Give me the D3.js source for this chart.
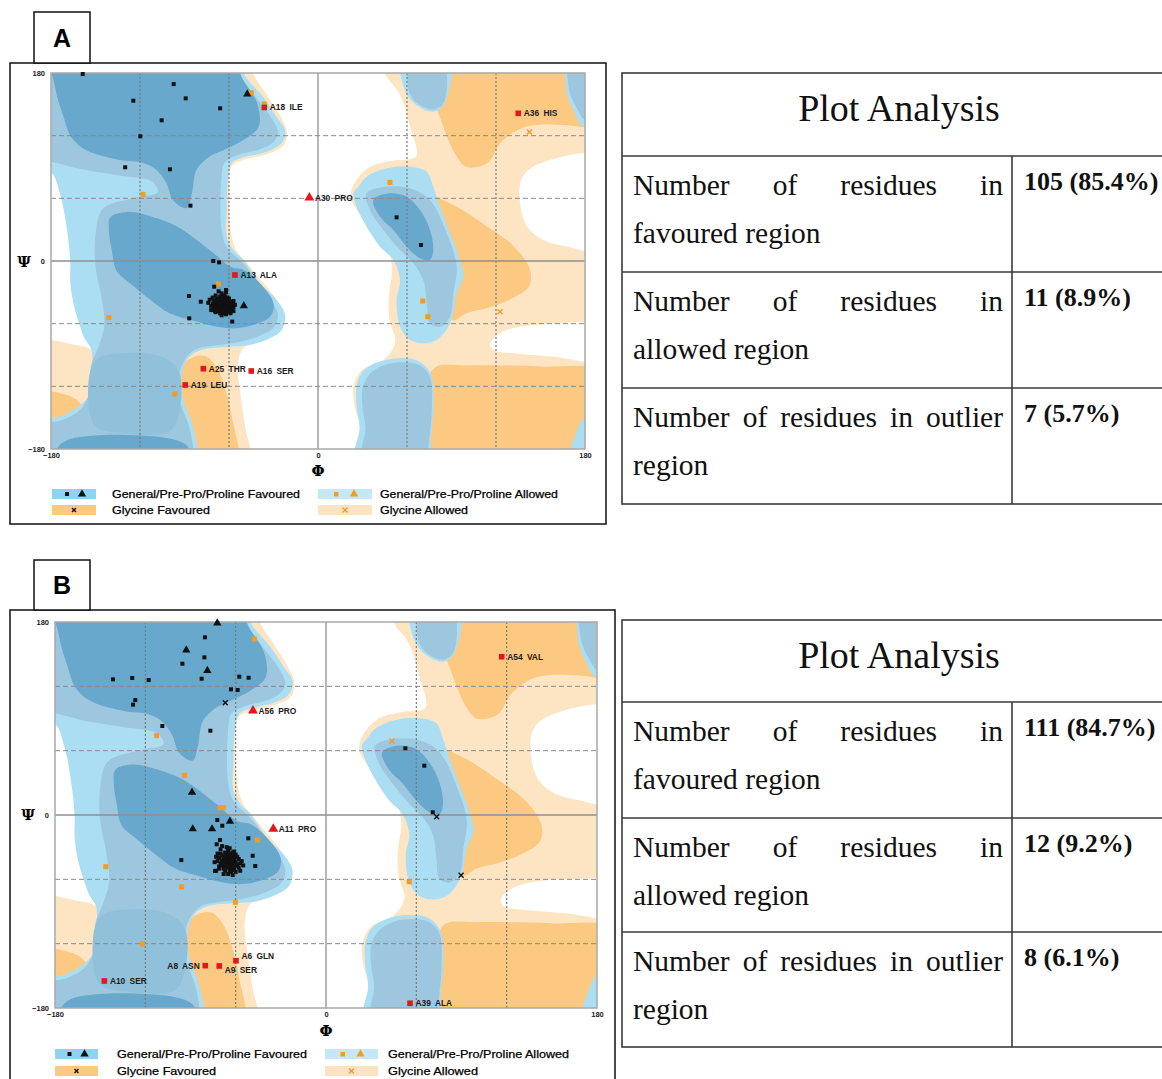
<!DOCTYPE html>
<html><head><meta charset="utf-8">
<script src="https://cdn.jsdelivr.net/npm/d3@7"></script>
<style>body{margin:0;background:#fff;} svg{display:block;}</style>
</head><body>
<svg id="fig" width="1162" height="1079"></svg>
<script>
// ---------------- DATA ----------------
const phiTicks = [-180, 0, 180];
const psiTicks = [-180, 0, 180];
const gridValues = [-120, -60, 60, 120];
const legendLabels = ["General/Pre-Pro/Proline Favoured", "General/Pre-Pro/Proline Allowed", "Glycine Favoured", "Glycine Allowed"];

// Background contour regions [phi, psi] (shared by both plots)
const glyAllowedRegions = [
  [[45,195],[45,180],[55,160],[62,129],[66,100],[50,96],[35,90],[26,78],[22,62],[28,45],[40,25],[48,8],[50,-10],[48,-30],[48,-55],[52,-78],[44,-95],[30,-104],[24,-120],[26,-146],[34,-165],[40,-195],[195,-195],[195,195]],
  [[-56,195],[-46,195],[-44,180],[-35,160],[-26,140],[-21,124],[-23,111],[-33,103],[-50,97],[-58,91],[-60,60],[-59,30],[-55,10],[-49,0],[-40,-16],[-30,-33],[-25,-50],[-27,-64],[-35,-74],[-50,-83],[-54,-100],[-52,-130],[-49,-160],[-46,-195],[-100,-195],[-100,100]],
  [[-195,-78],[-165,-80],[-152,-86],[-149,-110],[-149,-130],[-158,-150],[-195,-158]]
];
const glyFavouredRegions = [
  [[66,195],[66.5,180],[80,145],[87,119],[93.5,100],[100,90],[114,93.5],[123,113],[134,125],[145,130],[168,130],[180,128],[195,128],[195,195]],
  [[72,64],[93.5,52],[114,33],[132,14],[143,-8.6],[142,-25],[129,-37],[114,-45],[100,-50],[91,-57],[86,-40],[88,-10],[84,20],[78,45]],
  [[74,-195],[74,-140],[75,-110],[80,-101],[100,-100],[122,-100],[150,-101],[195,-108],[195,-195]],
  [[-93,-105],[-86,-93],[-76,-91],[-68,-103],[-62,-125],[-58,-150],[-55,-195],[-92,-195]],
  [[-195,-126],[-168,-129],[-160,-137],[-159,-148],[-170,-156],[-195,-158]]
];
const emptyRegions = [
  [[195,99],[150,93.5],[138,80.7],[136,58],[141,33],[152,20],[168,13.7],[195,10.5]],
  [[116,-79],[123,-69],[136,-63],[159,-60],[195,-63],[195,-95],[159,-91.6],[132,-88.4],[118,-85]]
];
const generalAllowedOuter = [
  [[-195,195],[-50,195],[-50,180],[-37,157],[-28,138],[-22,124],[-24.5,112.7],[-34.6,104.6],[-52.6,98.3],[-58.2,93.5],[-60.5,80.7],[-61.5,48.8],[-61.5,23.3],[-57,10.5],[-50.3,1],[-39,-21.4],[-27.8,-37.3],[-22.2,-51.7],[-24.5,-66],[-32.4,-74],[-45.8,-80.4],[-59.3,-82],[-72.8,-83.5],[-81.8,-86.8],[-88.5,-94.8],[-91.9,-110.7],[-90.8,-133],[-85,-155],[-81,-180],[-80,-195],[-195,-195],[-195,-156],[-174,-149],[-163,-141],[-155,-130],[-152,-115],[-152,-95],[-153,-84],[-157,-75],[-161,-60],[-165,-40],[-167,-20],[-167,0],[-169.5,32.8],[-174,64.8],[-180,85],[-195,90]],
  [[23.8,64.8],[27.2,71.1],[32.8,80.7],[46.3,88.7],[62,90.3],[73.3,85.5],[77.7,71.1],[82.2,52],[89,26.5],[95.7,1],[98,-15],[93.5,-31],[91.2,-50],[87.9,-62.9],[80,-75.6],[71,-78.8],[62,-75.6],[55.3,-62.9],[53,-37.3],[55.3,-18.2],[50.8,1],[41.8,13.7],[32.8,32.8],[26,52]],
  [[25,-195],[28,-160],[26,-140],[26,-120],[30,-106],[40,-97],[55,-93],[68,-96],[76,-108],[78,-140],[76,-170],[76,-195]],
  [[56,195],[57,170],[62,155],[70,146],[78,143],[84,148],[88,162],[89,195]],
  [[165,195],[166.5,180],[167.7,160.5],[172,144.6],[178.9,128.6],[195,125],[195,195]],
  [[170,-195],[174,-165],[180,-150],[195,-148],[195,-195]]
];
const generalAllowedInner = [
  [[-195,195],[-53,195],[-53,180],[-41,155],[-31,136],[-27,123],[-30,114],[-39,107],[-55,101],[-63,94],[-65,80],[-65,30],[-61,12],[-52,0],[-42,-17],[-32,-36],[-27,-52],[-30,-64],[-40,-72],[-55,-78],[-70,-81],[-83,-85],[-90,-95],[-94,-112],[-93,-135],[-87,-158],[-84,-180],[-83,-195],[-195,-195],[-195,-160],[-172,-152],[-160,-142],[-154,-126],[-153,-100],[-148,-82],[-144,-62],[-146,-35],[-150,-5],[-150,25],[-145,50],[-125,60],[-108,66],[-112,76],[-135,82],[-160,88],[-180,95],[-195,98]],
  [[32.8,64.8],[46.3,71.1],[62,69.6],[75.5,58.4],[86.8,26.5],[93.5,-5.5],[91.2,-31],[89,-53.3],[82.2,-62.9],[75.5,-59.7],[73.3,-40.5],[71,-18.2],[64.3,-2.2],[55.3,10.5],[44,29.7],[35,48.8]],
  [[30,-195],[32,-160],[30,-140],[30,-122],[35,-108],[44,-100],[57.5,-97],[68.8,-100],[75.5,-111],[76.7,-142.6],[74.4,-180],[74,-195]],
  [[58,195],[59.8,180],[62,160],[68,150],[77.7,145],[84,150],[86.8,165],[86.8,180],[87,195]],
  [[168,195],[168,180],[170,160],[175,145],[180,135],[195,132],[195,195]],
  [[-150,-95],[-128,-88],[-105,-92],[-94,-105],[-93,-140],[-100,-163],[-130,-165],[-150,-158],[-155,-130]]
];
const generalFavouredRegions = [
  [[-178,195],[-52.6,195],[-52.6,180],[-41,151],[-40,128.6],[-50,116],[-64,106],[-73,100],[-82,87],[-85,65],[-88.5,50.7],[-97.6,58],[-102,74],[-108.7,87],[-118,94],[-133.5,96.7],[-156,106],[-166,118],[-172,140],[-177,165]],
  [[-178,-195],[-176,-180],[-170,-172],[-150,-167],[-120,-167],[-100,-170],[-90,-175],[-87,-180],[-86,-195]],
  [[-140,42],[-129,47],[-111,42],[-95,33],[-73,10.5],[-59,-5.5],[-50,-8.6],[-37,-24.6],[-30,-40.5],[-32,-53],[-41,-60],[-55,-64.4],[-68,-63],[-82,-58],[-100,-50],[-113,-37],[-127,-21],[-136,-9],[-139,10],[-141,30]],
  [[37.3,58.4],[48.5,64.8],[59.8,61.6],[68.8,48.8],[75.5,29.7],[77.7,10.5],[75.5,1],[68.8,2.6],[59.8,13.7],[50.8,29.7],[41.8,42.4]]
];

// ---- Panel A residues ----
const aFavouredSquares = [[-158.6,179],[-97.3,169.4],[-124.5,153.5],[-89.2,155.7],[-66,146.2],[-105.4,134.7],[-119.8,119.4],[-130,89.7],[-99.8,87.8],[-86,53],[-70.6,0],[-66.7,-1.3],[-87,-33.5],[-79,-39],[-86.8,-54.9],[-57.8,-58],[-70,-24.6],[-62,-27.8],[-57,-38.3],[-69.4,-47.9],[53,41.8],[69.4,15.3],
 [-66,-38],[-64,-40],[-62,-41],[-65,-43],[-67,-41],[-63,-37],[-61,-39],[-68,-36],[-70,-38],[-60,-43],[-64,-45],[-66,-46],[-62,-47],[-59,-45],[-68,-44],[-71,-41],[-69,-33],[-66,-34],[-63,-33],[-60,-36],[-58,-41],[-61,-48],[-64,-49],[-67,-48],[-70,-46],[-72,-43],[-73,-37],[-65,-31],[-62,-30],[-67,-29],[-58,-47],[-57,-44],[-63,-42],[-65,-39],[-61,-44],[-66,-42],[-64,-36],[-62,-38],[-68,-40],[-60,-40],[-63,-46],[-65,-47],[-59,-50],[-62,-51],[-66,-50],[-69,-49],[-71,-35],[-74,-40],[-56,-42],[-67,-39],[-64,-43],[-61,-42],[-63,-39],[-65,-44],[-67,-45],[-60,-46],[-62,-44],[-66,-37],[-69,-42],[-58,-39],[-64,-34],[-61,-35],[-68,-47],[-63,-50],[-65,-52],[-60,-49],[-70,-43],[-72,-47],[-57,-48],[-62,-35],[-66,-41],[-64,-38],[-63,-44],[-65,-36],[-61,-37],[-67,-43],[-59,-42],[-68,-38],[-62,-45],[-64,-47],[-66,-44]];
const aFavouredTriangles = [[-47.7,159.9],[-50,-43]];
const aGlycineFavoured = [];
const aAllowedSquares = [[-45,161],[-36.2,150.3],[-118,63.8],[-67.2,-22],[-141,-54.2],[-96.6,-127.3],[48.5,75.3],[70.6,-38.3],[74,-53.3]];
const aGlycineAllowed = [[142.5,123.5],[122.7,-48.5]];
const aOutliers = [
  {label:"A18 ILE", phi:-36.2, psi:147, shape:"square"},
  {label:"A30 PRO", phi:-5.8, psi:60.6, shape:"triangle"},
  {label:"A13 ALA", phi:-56, psi:-13.4, shape:"square"},
  {label:"A25 THR", phi:-77.3, psi:-103.1, shape:"square"},
  {label:"A16 SER", phi:-45, psi:-105.3, shape:"square"},
  {label:"A19 LEU", phi:-89.5, psi:-118.7, shape:"square"},
  {label:"A36 HIS", phi:135, psi:141.4, shape:"square"}
];
const aTableValues = ["105 (85.4%)", "11 (8.9%)", "7 (5.7%)"];

// ---- Panel B residues ----
const bFavouredSquares = [[-80.4,165.7],[-80.8,147],[-95.4,141.1],[-141.5,126.5],[-128.7,127.8],[-117.8,125.9],[-82.6,127.1],[-57.6,129],[-51.4,128],[-63.1,117.2],[-58.7,116.6],[-126.7,107.2],[-128.2,102.9],[-108.7,83],[-76.8,78.6],[-72.2,-4.7],[-68.9,-10],[-51.6,-21.7],[-96.1,-42],[-73.7,-52.2],[-62,-50.6],[-47,-47.6],[-48.7,-38],[-72.6,-27.3],[-70.4,-23.3],[52.7,62.2],[65.3,46],[70.9,2.5],
 [-65,-41],[-63,-43],[-67,-39],[-61,-40],[-66,-45],[-64,-37],[-62,-46],[-68,-42],[-60,-44],[-69,-38],[-66,-48],[-63,-49],[-70,-45],[-59,-47],[-64,-41],[-62,-38],[-67,-35],[-65,-33],[-71,-40],[-58,-41],[-61,-51],[-64,-52],[-68,-50],[-72,-43],[-57,-45],[-66,-42],[-63,-40],[-65,-46],[-61,-43],[-67,-44],[-69,-47],[-60,-37],[-62,-35],[-66,-38],[-64,-44],[-70,-36],[-73,-39],[-58,-49],[-63,-53],[-67,-52],[-65,-55],[-60,-53],[-71,-50],[-56,-43],[-62,-42],[-68,-40],[-64,-47],[-66,-36],[-69,-43],[-61,-48],[-65,-38],[-63,-45],[-67,-47],[-59,-39],[-70,-32],[-66,-30],[-72,-36],[-74,-44],[-55,-47],[-62,-56],[-68,-55],[-64,-39],[-66,-43],[-62,-44],[-65,-49],[-60,-46],[-63,-36],[-68,-45],[-71,-48],[-61,-34],[-64,-31],[-69,-29],[-57,-52],[-73,-52]];
const bFavouredTriangles = [[-72.2,179],[-92.8,153.9],[-78.8,134.6],[-89,21.2],[-63.8,-5.9],[-88.5,-13],[-75.7,-13]];
const bGlycineFavoured = [[-66.9,104.7],[73.5,-1.6],[89.7,-56.3]];
const bAllowedSquares = [[-47.6,164.1],[-112.5,74],[-93.9,37],[-70.4,6.8],[-68.2,6.8],[-45.6,-23.3],[-146.3,-48.2],[-95.9,-66.9],[-60.2,-81.4],[-122,-120.3],[55.3,-62.2]];
const bGlycineAllowed = [[43.8,69]];
const bOutliers = [
  {label:"A54 VAL", phi:116.7, psi:147.6, shape:"square"},
  {label:"A56 PRO", phi:-48.5, psi:97.3, shape:"triangle"},
  {label:"A11 PRO", phi:-35, psi:-13, shape:"triangle"},
  {label:"A6 GLN", phi:-59.8, psi:-135.9, shape:"square"},
  {label:"A8 ASN", phi:-80.2, psi:-140.5, shape:"square"},
  {label:"A9 SER", phi:-70.9, psi:-140.8, shape:"square"},
  {label:"A10 SER", phi:-147.2, psi:-154.8, shape:"square"},
  {label:"A39 ALA", phi:55.8, psi:-175.6, shape:"square"}
];
const bTableValues = ["111 (84.7%)", "12 (9.2%)", "8 (6.1%)"];

const tableHeader = "Plot Analysis";
const tableRowLines = [["Number of residues in", "favoured region"], ["Number of residues in", "allowed region"], ["Number of residues in outlier", "region"]];

// ---------------- LAYOUT / STYLE ----------------
const COL = {lightOrange:"#fde5c4", orange:"#fbc981", sky:"#acdef3", gray:"#9cc7de", core:"#68a8cc", grayDark:"#90c0da"};
// label placement tweaks for crowded outlier labels (pixels)
const labelPlacement = {"A6 GLN":{dx:5.5, dy:-5, anchor:"start"}, "A8 ASN":{dx:-5.5, dy:0, anchor:"end"}, "A9 SER":{dx:5.5, dy:4, anchor:"start"}};
const panels = [
  {key:"A", frame:{x:10,y:63,w:596,h:461}, box:{x:34,y:12,w:56,h:51}, plot:{x:51,y:73,w:534,h:376},
   legend:{y1:494,y2:510,sw1x:52,sw1w:44,t1x:112,tw:[188,178,98,88],sw2x:318,sw2w:54,t2x:380},
   psiLab:{x:24,y:262}, phiLab:{x:318,y:471},
   table:{top:73,head:156,rows:[272,388,504]},
   fav:aFavouredSquares, tri:aFavouredTriangles, glyFav:aGlycineFavoured, allow:aAllowedSquares, glyAllow:aGlycineAllowed, out:aOutliers, values:aTableValues},
  {key:"B", frame:{x:10,y:610,w:605,h:480}, box:{x:34,y:560,w:56,h:50}, plot:{x:55,y:622,w:542,h:386},
   legend:{y1:1054,y2:1071,sw1x:55,sw1w:43,t1x:117,tw:[190,181,99,90],sw2x:325,sw2w:53,t2x:388},
   psiLab:{x:28,y:815}, phiLab:{x:326,y:1031},
   table:{top:620,head:702,rows:[818,932,1047]},
   fav:bFavouredSquares, tri:bFavouredTriangles, glyFav:bGlycineFavoured, allow:bAllowedSquares, glyAllow:bGlycineAllowed, out:bOutliers, values:bTableValues}
];

const svg = d3.select("#fig");
const SANS = "'Liberation Sans', Arial, sans-serif";
const SERIF = "'Liberation Serif', 'Times New Roman', serif";

function drawPanel(p) {
  const g = svg.append("g");
  g.append("rect").attr("x",p.frame.x).attr("y",p.frame.y).attr("width",p.frame.w).attr("height",p.frame.h)
    .attr("fill","none").attr("stroke","#111").attr("stroke-width",1.5);
  g.append("rect").attr("x",p.box.x).attr("y",p.box.y).attr("width",p.box.w).attr("height",p.box.h)
    .attr("fill","#fff").attr("stroke","#111").attr("stroke-width",1.5);
  g.append("text").attr("x",p.box.x+p.box.w/2).attr("y",p.box.y+p.box.h/2).attr("dy","0.36em")
    .attr("text-anchor","middle").attr("font-family",SANS).attr("font-weight","bold").attr("font-size",25).text(p.key);

  const x = d3.scaleLinear().domain([-180,180]).range([p.plot.x, p.plot.x+p.plot.w]);
  const y = d3.scaleLinear().domain([-180,180]).range([p.plot.y+p.plot.h, p.plot.y]);
  const clipId = "clip"+p.key;
  svg.append("clipPath").attr("id",clipId).append("rect")
    .attr("x",p.plot.x).attr("y",p.plot.y).attr("width",p.plot.w).attr("height",p.plot.h);
  const bg = g.append("g").attr("clip-path","url(#"+clipId+")");
  const line = d3.line().x(d=>x(d[0])).y(d=>y(d[1])).curve(d3.curveCatmullRomClosed.alpha(0.5));
  const layer = (regions, fill) => bg.append("g").selectAll("path").data(regions).join("path")
    .attr("d", line).attr("fill", fill).attr("stroke","none");
  layer(glyAllowedRegions, COL.lightOrange);
  layer(glyFavouredRegions, COL.orange);
  layer(emptyRegions, "#fff");
  layer(generalAllowedOuter, COL.sky);
  bg.append("g").selectAll("path").data(generalAllowedInner).join("path")
    .attr("d", line).attr("fill",(d,i)=> i===5 ? COL.grayDark : COL.gray);
  layer(generalFavouredRegions, COL.core);

  const grid = g.append("g");
  grid.selectAll(".vg").data(gridValues).join("line")
    .attr("x1",d=>x(d)).attr("x2",d=>x(d)).attr("y1",p.plot.y).attr("y2",p.plot.y+p.plot.h)
    .attr("stroke","#7a7a7a").attr("stroke-width",1.2).attr("stroke-dasharray","2,2");
  grid.selectAll(".hg").data(gridValues).join("line")
    .attr("y1",d=>y(d)).attr("y2",d=>y(d)).attr("x1",p.plot.x).attr("x2",p.plot.x+p.plot.w)
    .attr("stroke","#8a8a8a").attr("stroke-width",1).attr("stroke-dasharray","5,3");
  grid.append("line").attr("x1",x(0)).attr("x2",x(0)).attr("y1",p.plot.y).attr("y2",p.plot.y+p.plot.h)
    .attr("stroke","#8f8f8f").attr("stroke-width",1.3);
  grid.append("line").attr("y1",y(0)).attr("y2",y(0)).attr("x1",p.plot.x).attr("x2",p.plot.x+p.plot.w)
    .attr("stroke","#8f8f8f").attr("stroke-width",1.3);
  g.append("rect").attr("x",p.plot.x).attr("y",p.plot.y).attr("width",p.plot.w).attr("height",p.plot.h)
    .attr("fill","none").attr("stroke","#a8a8a8").attr("stroke-width",1.5);

  const ax = g.append("g").attr("transform","translate(0,"+(p.plot.y+p.plot.h)+")")
    .call(d3.axisBottom(x).tickValues(phiTicks).tickSize(0).tickPadding(4));
  const ay = g.append("g").attr("transform","translate("+p.plot.x+",0)")
    .call(d3.axisLeft(y).tickValues(psiTicks).tickSize(0).tickPadding(6));
  [ax, ay].forEach(a => {
    a.select(".domain").remove();
    a.selectAll("text").attr("font-family",SANS).attr("font-weight","bold").attr("font-size",7.5).attr("fill","#222");
  });
  g.append("text").attr("x",p.psiLab.x).attr("y",p.psiLab.y).attr("dy","0.35em").attr("text-anchor","middle")
    .attr("font-family","'DejaVu Serif', serif").attr("font-weight","bold").attr("font-size",15).text("Ψ");
  g.append("text").attr("x",p.phiLab.x).attr("y",p.phiLab.y).attr("dy","0.35em").attr("text-anchor","middle")
    .attr("font-family","'DejaVu Serif', serif").attr("font-weight","bold").attr("font-size",15).text("Φ");

  const pts = g.append("g");
  const sq = (data, s, fill) => pts.append("g").selectAll("rect").data(data).join("rect")
    .attr("x",d=>x(d[0])-s/2).attr("y",d=>y(d[1])-s/2).attr("width",s).attr("height",s).attr("fill",fill);
  const xs = (data, color) => pts.append("g").selectAll("path").data(data).join("path")
    .attr("transform",d=>"translate("+x(d[0])+","+y(d[1])+")")
    .attr("d","M-2.5,-2.5L2.5,2.5M-2.5,2.5L2.5,-2.5").attr("stroke",color).attr("stroke-width",1.4).attr("fill","none");
  const triSym = d3.symbol().type(d3.symbolTriangle).size(30);
  sq(p.allow, 5, "#f39c1e");
  xs(p.glyAllow, "#f39c1e");
  sq(p.fav, 4, "#111");
  pts.append("g").selectAll("path").data(p.tri).join("path")
    .attr("transform",d=>"translate("+x(d[0])+","+y(d[1])+")").attr("d",triSym).attr("fill","#111");
  xs(p.glyFav, "#111");
  const outG = pts.append("g");
  const redTri = d3.symbol().type(d3.symbolTriangle).size(42);
  outG.selectAll("path").data(p.out.filter(d=>d.shape==="triangle")).join("path")
    .attr("transform",d=>"translate("+x(d.phi)+","+y(d.psi)+")").attr("d",redTri).attr("fill","#e8141b");
  outG.selectAll("rect").data(p.out.filter(d=>d.shape==="square")).join("rect")
    .attr("x",d=>x(d.phi)-2.8).attr("y",d=>y(d.psi)-2.8).attr("width",5.6).attr("height",5.6).attr("fill","#e8141b");
  const lp = d => labelPlacement[d.label] || {dx:5.5, dy:0, anchor:"start"};
  outG.selectAll("text").data(p.out).join("text")
    .attr("x",d=>x(d.phi)+lp(d).dx).attr("y",d=>y(d.psi)+lp(d).dy).attr("dy","0.35em")
    .attr("text-anchor",d=>lp(d).anchor)
    .attr("font-family",SANS).attr("font-weight","bold").attr("font-size",8.4).attr("fill","#1a1a1a")
    .attr("word-spacing",2).text(d=>d.label);

  const L = p.legend;
  const lg = g.append("g");
  const sw = [
    {x:L.sw1x, w:L.sw1w, yy:L.y1, fill:"#8fd3f2"},
    {x:L.sw2x, w:L.sw2w, yy:L.y1, fill:"#c4e8f8"},
    {x:L.sw1x, w:L.sw1w, yy:L.y2, fill:COL.orange},
    {x:L.sw2x, w:L.sw2w, yy:L.y2, fill:"#fde3bf"}
  ];
  lg.selectAll("rect.sw").data(sw).join("rect").attr("class","sw")
    .attr("x",d=>d.x).attr("y",d=>d.yy-5).attr("width",d=>d.w).attr("height",10).attr("fill",d=>d.fill);
  const tx = [L.t1x, L.t2x, L.t1x, L.t2x];
  const ty = [L.y1, L.y1, L.y2, L.y2];
  lg.selectAll("text").data(legendLabels).join("text")
    .attr("x",(d,i)=>tx[i]).attr("y",(d,i)=>ty[i]).attr("dy","0.35em")
    .attr("font-family",SANS).attr("font-size",10.5).attr("fill","#000").attr("stroke","#000").attr("stroke-width",0.25)
    .attr("textLength",(d,i)=>L.tw[i]).attr("lengthAdjust","spacingAndGlyphs").text(d=>d);
  const c1 = L.sw1x + L.sw1w/2, c2 = L.sw2x + L.sw2w/2;
  lg.append("rect").attr("x",c1-9).attr("y",L.y1-2).attr("width",4).attr("height",4).attr("fill","#111");
  lg.append("path").attr("transform","translate("+(c1+8)+","+L.y1+")").attr("d",triSym).attr("fill","#111");
  lg.append("rect").attr("x",c2-11).attr("y",L.y1-2).attr("width",4.5).attr("height",4.5).attr("fill","#f39c1e");
  lg.append("path").attr("transform","translate("+(c2+9)+","+L.y1+")").attr("d",triSym).attr("fill","#f39c1e");
  lg.append("path").attr("transform","translate("+c1+","+L.y2+")").attr("d","M-2,-2L2,2M-2,2L2,-2").attr("stroke","#111").attr("stroke-width",1.4);
  lg.append("path").attr("transform","translate("+c2+","+L.y2+")").attr("d","M-2.5,-2.5L2.5,2.5M-2.5,2.5L2.5,-2.5").attr("stroke","#f39c1e").attr("stroke-width",1.3);

  drawTable(p);
}

function justify(g, str, x0, x1, yy, size) {
  const words = str.split(" ");
  const els = words.map(w => g.append("text").attr("y",yy).attr("dy","0.35em")
    .attr("font-family",SERIF).attr("font-size",size).attr("fill","#111").text(w));
  const widths = els.map(e => e.node().getComputedTextLength());
  const total = d3.sum(widths);
  const gap = words.length > 1 ? (x1 - x0 - total) / (words.length - 1) : 0;
  let cx = x0;
  els.forEach((e,i) => { e.attr("x", cx); cx += widths[i] + gap; });
}

function drawTable(p) {
  const t = p.table;
  const g = svg.append("g");
  const Lx = 622, Rx = 1176, col = 1012;
  g.append("rect").attr("x",Lx).attr("y",t.top).attr("width",Rx-Lx).attr("height",t.rows[2]-t.top)
    .attr("fill","none").attr("stroke","#3a3a3a").attr("stroke-width",1.6);
  [t.head, t.rows[0], t.rows[1]].forEach(v => g.append("line").attr("x1",Lx).attr("x2",Rx).attr("y1",v).attr("y2",v)
    .attr("stroke","#3a3a3a").attr("stroke-width",1.6));
  g.append("line").attr("x1",col).attr("x2",col).attr("y1",t.head).attr("y2",t.rows[2]).attr("stroke","#3a3a3a").attr("stroke-width",1.6);
  g.append("text").attr("x",(Lx+Rx)/2).attr("y",t.top+35).attr("dy","0.35em").attr("text-anchor","middle")
    .attr("font-family",SERIF).attr("font-size",38).attr("fill","#111").text(tableHeader);
  tableRowLines.forEach((lines, i) => {
    const top = i === 0 ? t.head : t.rows[i-1];
    justify(g, lines[0], 633, 1003, top+29, 29.5);
    g.append("text").attr("x",633).attr("y",top+77).attr("dy","0.35em")
      .attr("font-family",SERIF).attr("font-size",29.5).attr("fill","#111").text(lines[1]);
    g.append("text").attr("x",1024).attr("y",top+25).attr("dy","0.35em")
      .attr("font-family",SERIF).attr("font-weight","bold").attr("font-size",26).attr("fill","#111").text(p.values[i]);
  });
}

panels.forEach(drawPanel);
</script>
</body></html>
